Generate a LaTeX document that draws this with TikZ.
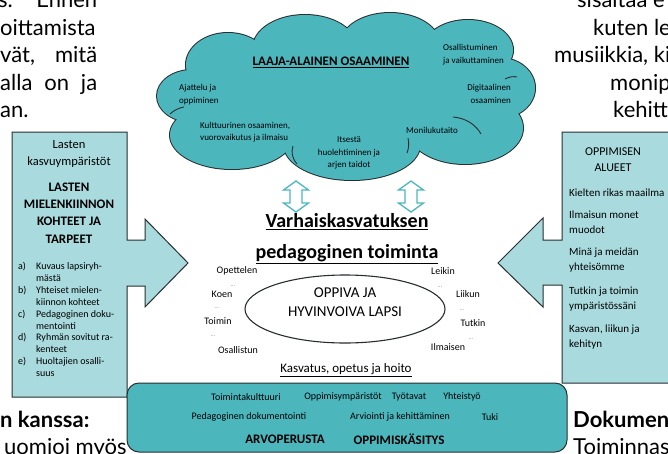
\documentclass[tikz,border=0pt]{standalone}
\usepackage{fontspec}
\setmainfont{Carlito}
\newfontfamily\docfont{Lato}
\definecolor{cloudteal}{RGB}{76,182,189}
\definecolor{boxcyan}{RGB}{169,219,222}
\definecolor{edgegray}{RGB}{40,46,48}
\newcommand\fs[2]{\fontsize{#1}{#2}\selectfont}
\begin{document}
\begin{tikzpicture}[x=1pt,y=-1pt,
  panel/.style={fill=boxcyan, draw=edgegray, line width=1pt},
  tealbox/.style={fill=cloudteal, draw=edgegray, line width=1pt, rounded corners=12pt},
  dblarrow/.style={draw=cloudteal, fill=white, line width=1.3pt, line join=miter},
  lbl/.style={inner sep=0pt, text=black},
  dotmark/.style={inner sep=0pt, font=\fs{6}{7}, text=gray},
  doctext/.style={inner sep=0pt, font=\docfont\fs{22}{27}, text=black},
  cloudout/.style={draw=edgegray, line width=2pt},
  cloudin/.style={draw=edgegray, line width=0.9pt}
]
\useasboundingbox (0,0) rectangle (668,453);
\clip (0,0) rectangle (668,453);
\fill[white] (0,0) rectangle (668,453);

% surrounding document text
\node[doctext, anchor=base west] (t1) at (-2,7) {\makebox[99pt][s]{s. Ennen}};
\node[doctext, anchor=base west] (t2) at (0,35) {\makebox[97pt][s]{oittamista}};
\node[doctext, anchor=base west] (t3) at (0,62.5) {\makebox[97pt][s]{vät, mitä}};
\node[doctext, anchor=base west] (t4) at (0,90) {\makebox[97pt][s]{alla on ja}};
\node[doctext, anchor=base west] (t5) at (0,117.5) {an.};
\node[doctext, anchor=base west] (r1) at (577,7) {sisältää e};
\node[doctext, anchor=base west] (r2) at (593,35) {kuten le};
\node[doctext, anchor=base west] (r3) at (554,62.5) {musiikkia, ki};
\node[doctext, anchor=base west] (r4) at (610,90) {monip};
\node[doctext, anchor=base west] (r5) at (613,117.5) {kehitt};
\node[doctext, anchor=base west, font=\docfont\bfseries\fs{22}{27}] (b1) at (0,427) {n kanssa:};
\node[doctext, anchor=base west] (b2) at (4,454) {uomioi myös};
\node[doctext, anchor=base west, font=\docfont\bfseries\fs{22}{27}] (b3) at (573,427) {Dokumen};
\node[doctext, anchor=base west] (b4) at (573,454) {Toiminnas};

% left arrow panel
\draw[panel] (12,132) -- (127,132) -- (127,240) -- (145,240) -- (145,219) -- (188,263)
  -- (145,307) -- (145,286) -- (127,286) -- (127,397) -- (12,397) -- cycle;
% right arrow panel
\draw[panel] (690,132) -- (562,132) -- (562,240) -- (543,240) -- (543,218) -- (498,263)
  -- (543,307) -- (543,285) -- (562,285) -- (562,383) -- (690,383);

% cloud
\foreach \cx/\cy/\rx/\ry in {192/96/35/26, 232/135/62/34, 352/145/68/35, 465/128/58/36,
  500/88/35/30, 468/50/45/30, 390/45/50/32, 305/48/52/33, 228/65/42/32}
  {\draw[cloudout] (\cx,\cy) ellipse [x radius=\rx, y radius=\ry];}
\foreach \cx/\cy/\rx/\ry in {192/96/35/26, 232/135/62/34, 352/145/68/35, 465/128/58/36,
  500/88/35/30, 468/50/45/30, 390/45/50/32, 305/48/52/33, 228/65/42/32, 350/95/140/50}
  {\fill[cloudteal] (\cx,\cy) ellipse [x radius=\rx, y radius=\ry];}
\draw[cloudin] (453,117) .. controls (466,118) and (476,125) .. (481,134);
\draw[cloudin] (505,79) .. controls (509,77) and (513,76) .. (517,77);
\draw[cloudin] (297,164) .. controls (292,158) and (291,152) .. (293,146);
\draw[cloudin] (407,153) .. controls (409,148) and (409,143) .. (408,138);
\draw[cloudin] (170,114) .. controls (174,110) and (179,108) .. (184,107);

% cloud texts
\node[lbl, font=\bfseries\fs{13}{15}] (laaja) at (331,62) {\underline{LAAJA-ALAINEN OSAAMINEN}};
\node[lbl, font=\fs{9}{13}, align=left, anchor=west] (osall) at (443,55) {Osallistuminen\\ja vaikuttaminen};
\node[lbl, font=\fs{9}{13}, align=left, anchor=west] (ajat) at (179,95) {Ajattelu ja\\oppiminen};
\node[lbl, font=\fs{9}{12.5}, align=right, anchor=east] (digi) at (511,94) {Digitaalinen\\osaaminen};
\node[lbl, font=\fs{9}{12.5}, align=left, anchor=west] (kult) at (200,132) {Kulttuurinen osaaminen,\\vuorovaikutus ja ilmaisu};
\node[lbl, font=\fs{9}{12.5}, align=center] (itse) at (349,153) {Itsestä\\huolehtiminen ja\\arjen taidot};
\node[lbl, font=\fs{9}{12.5}] (moni) at (432,130) {Monilukutaito};

% double arrows
\foreach \ax/\nm in {296/da1, 411/da2}{
  \draw[dblarrow] (\ax,181) -- (\ax+12.5,190) -- (\ax+6,190) -- (\ax+6,203) -- (\ax+12.5,203)
    -- (\ax,212) -- (\ax-12.5,203) -- (\ax-6,203) -- (\ax-6,190) -- (\ax-12.5,190) -- cycle;
  \coordinate (\nm) at (\ax,196);
}

% central title
\node[lbl, font=\bfseries\fs{20}{24}] (varh) at (347,222) {\underline{Varhaiskasvatuksen}};
\node[lbl, font=\bfseries\fs{20}{24}] (peda) at (347,254) {\underline{pedagoginen toiminta}};

% child ellipse
\draw[draw=edgegray, line width=1.1pt] (345,309) ellipse [x radius=100, y radius=34];
\node[lbl, font=\fs{15}{19}, align=center] (lapsi) at (345,302) {OPPIVA JA\\HYVINVOIVA LAPSI};

% verbs
\node[lbl, font=\fs{10}{12}] (w1) at (237,271) {Opettelen};
\node[lbl, font=\fs{10}{12}] (w2) at (222,294) {Koen};
\node[lbl, font=\fs{10}{12}] (w3) at (218,321) {Toimin};
\node[lbl, font=\fs{10}{12}] (w4) at (238,350) {Osallistun};
\node[lbl, font=\fs{10}{12}] (w5) at (443,271) {Leikin};
\node[lbl, font=\fs{10}{12}] (w6) at (468,294) {Liikun};
\node[lbl, font=\fs{10}{12}] (w7) at (473,323) {Tutkin};
\node[lbl, font=\fs{10}{12}] (w8) at (448,347) {Ilmaisen};
\node[dotmark] (d1) at (233,286) {...};
\node[dotmark] (d2) at (217,308) {...};
\node[dotmark] (d3) at (213,336) {...};
\node[dotmark] (d4) at (462,310) {...};
\node[dotmark] (d5) at (471,339) {...};
\node[dotmark] (d6) at (440,287) {...};

\node[lbl, font=\fs{13}{15}] (kasv) at (346,370) {\underline{Kasvatus, opetus ja hoito}};

% bottom box
\draw[tealbox] (127,383) rectangle (567,452);
\node[lbl, font=\fs{10}{12}] (m1) at (246,397) {Toimintakulttuuri};
\node[lbl, font=\fs{10}{12}] (m2) at (343,397) {Oppimisympäristöt};
\node[lbl, font=\fs{10}{12}] (m3) at (409,397) {Työtavat};
\node[lbl, font=\fs{10}{12}] (m4) at (462,397) {Yhteistyö};
\node[lbl, font=\fs{10}{12}] (m5) at (249,417) {Pedagoginen dokumentointi};
\node[lbl, font=\fs{10}{12}] (m6) at (400,417) {Arviointi ja kehittäminen};
\node[lbl, font=\fs{10}{12}] (m7) at (490,417) {Tuki};
\node[lbl, font=\bfseries\fs{13}{15}] (m8) at (285,439) {ARVOPERUSTA};
\node[lbl, font=\bfseries\fs{13}{15}] (m9) at (399,439) {OPPIMISKÄSITYS};

% left panel texts
\node[lbl, font=\fs{12.5}{17}, align=center] (lk) at (69,153.5) {Lasten\\kasvuympäristöt};
\node[lbl, font=\bfseries\fs{13}{17.4}, align=center] (lm) at (69,213) {LASTEN\\MIELENKIINNON\\KOHTEET JA\\TARPEET};
\node[lbl, anchor=north west, font=\fs{10}{11.9}] (list) at (18,261) {%
\begin{tabular}{@{}p{18pt}@{}l@{}}
a) & Kuvaus lapsiryh-\\
   & mästä\\
b) & Yhteiset mielen-\\
   & kiinnon kohteet\\
c) & Pedagoginen doku-\\
   & mentointi\\
d) & Ryhmän sovitut ra-\\
   & kenteet\\
e) & Huoltajien osalli-\\
   & suus
\end{tabular}};

% right panel texts
\node[lbl, font=\fs{12}{16}, align=center] (ra) at (613,160) {OPPIMISEN\\ALUEET};
\node[lbl, font=\fs{11}{15}, anchor=west] (ra1) at (569,193) {Kielten rikas maailma};
\node[lbl, font=\fs{11}{15}, anchor=west, align=left] (ra2) at (569,222.5) {Ilmaisun monet\\muodot};
\node[lbl, font=\fs{11}{15}, anchor=west, align=left] (ra3) at (569,260.5) {Minä ja meidän\\yhteisömme};
\node[lbl, font=\fs{11}{15}, anchor=west, align=left] (ra4) at (569,299.5) {Tutkin ja toimin\\ympäristössäni};
\node[lbl, font=\fs{11}{15}, anchor=west, align=left] (ra5) at (569,337.5) {Kasvan, liikun ja\\kehityn};
\end{tikzpicture}
\end{document}
